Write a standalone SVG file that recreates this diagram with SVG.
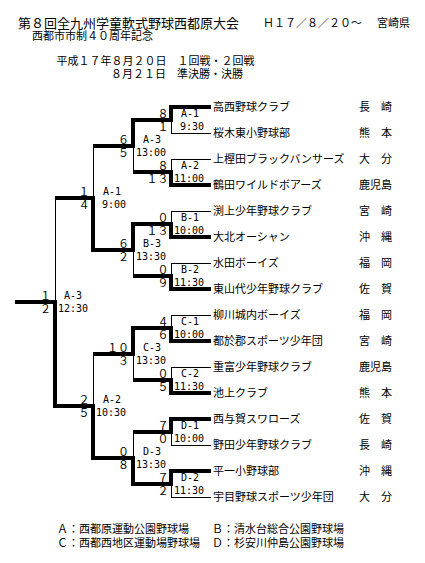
<svg xmlns="http://www.w3.org/2000/svg" width="425" height="563" viewBox="0 0 425 563">
<style>
.j{font-family:"Noto Sans CJK JP","Noto Sans CJK SC",sans-serif;font-size:11px;fill:#000}
.ttl{font-size:13px}
.s{text-anchor:end}
.m{font-family:"DejaVu Sans Mono","Liberation Mono",monospace;font-size:10px;fill:#000}
.e{text-anchor:end}
.k{stroke:#000;stroke-width:4;fill:none;stroke-linejoin:miter;shape-rendering:crispEdges}
.n{stroke:#000;stroke-width:1;fill:none;shape-rendering:crispEdges}
</style>
<rect width="425" height="563" fill="#fff"/>
<g id="header">
<text class="j ttl" x="18" y="28">第８回全九州学童軟式野球西都原大会</text>
<text class="j" x="263" y="27">Ｈ１７／８／２０～</text>
<text class="j" x="377" y="27">宮崎県</text>
<text class="j" x="32" y="40">西都市市制４０周年記念</text>
<text class="j" x="56.5" y="65">平成１７年８月２０日　１回戦・２回戦</text>
<text class="j" x="111" y="78">８月２１日　準決勝・決勝</text>
</g>
<g id="connectors">
<path class="k" d="M211,107H171V120H133V146H93"/>
<path class="k" d="M211,185H171V172H133"/>
<path class="k" d="M211,237H171V224H133V250H93V198H55"/>
<path class="k" d="M211,289H171V276H133"/>
<path class="k" d="M211,341H171V328H133V354H93"/>
<path class="k" d="M211,393H171V380H133"/>
<path class="k" d="M211,419H171V432H133"/>
<path class="k" d="M211,471H171V484H133V458H93V406H55V302H15"/>
<path class="n" d="M211,133H171V120"/>
<path class="n" d="M211,159H171V172"/>
<path class="n" d="M211,211H171V224"/>
<path class="n" d="M211,263H171V276"/>
<path class="n" d="M211,315H171V328"/>
<path class="n" d="M211,367H171V380"/>
<path class="n" d="M211,445H171V432"/>
<path class="n" d="M211,497H171V484"/>
<path class="n" d="M133,172V146M133,276V250M133,380V354M133,432V458"/>
<path class="n" d="M93,146V198M93,354V406"/>
<path class="n" d="M55,198V302"/>
</g>
<g id="teams">
<g id="team1"><text class="j" x="213" y="111">高西野球クラブ</text><text class="j" x="359" y="111">長　崎</text></g>
<g id="team2"><text class="j" x="213" y="137">桜木東小野球部</text><text class="j" x="359" y="137">熊　本</text></g>
<g id="team3"><text class="j" x="213" y="163">上樫田ブラックバンサーズ</text><text class="j" x="359" y="163">大　分</text></g>
<g id="team4"><text class="j" x="213" y="189">鶴田ワイルドボアーズ</text><text class="j" x="359" y="189">鹿児島</text></g>
<g id="team5"><text class="j" x="213" y="215">渕上少年野球クラブ</text><text class="j" x="359" y="215">宮　崎</text></g>
<g id="team6"><text class="j" x="213" y="241">大北オーシャン</text><text class="j" x="359" y="241">沖　縄</text></g>
<g id="team7"><text class="j" x="213" y="267">水田ボーイズ</text><text class="j" x="359" y="267">福　岡</text></g>
<g id="team8"><text class="j" x="213" y="293">東山代少年野球クラブ</text><text class="j" x="359" y="293">佐　賀</text></g>
<g id="team9"><text class="j" x="213" y="319">柳川城内ボーイズ</text><text class="j" x="359" y="319">福　岡</text></g>
<g id="team10"><text class="j" x="213" y="345">都於郡スポーツ少年団</text><text class="j" x="359" y="345">宮　崎</text></g>
<g id="team11"><text class="j" x="213" y="371">重富少年野球クラブ</text><text class="j" x="359" y="371">鹿児島</text></g>
<g id="team12"><text class="j" x="213" y="397">池上クラブ</text><text class="j" x="359" y="397">熊　本</text></g>
<g id="team13"><text class="j" x="213" y="423">西与賀スワローズ</text><text class="j" x="359" y="423">佐　賀</text></g>
<g id="team14"><text class="j" x="213" y="449">野田少年野球クラブ</text><text class="j" x="359" y="449">長　崎</text></g>
<g id="team15"><text class="j" x="213" y="475">平一小野球部</text><text class="j" x="359" y="475">沖　縄</text></g>
<g id="team16"><text class="j" x="213" y="501">宇目野球スポーツ少年団</text><text class="j" x="359" y="501">大　分</text></g>
</g>
<g id="matches">
<g id="mA1"><text class="j s" x="168.5" y="118">８</text><text class="j s" x="168.5" y="130.5">１</text><text class="m" x="181" y="117">A-1</text><text class="m e" x="204" y="130">9:30</text></g>
<g id="mA2"><text class="j s" x="168.5" y="170">８</text><text class="j s" x="168.5" y="182.5">１３</text><text class="m" x="181" y="169">A-2</text><text class="m e" x="204" y="182">11:00</text></g>
<g id="mB1"><text class="j s" x="168.5" y="222">０</text><text class="j s" x="168.5" y="234.5">１３</text><text class="m" x="181" y="221">B-1</text><text class="m e" x="204" y="234">10:00</text></g>
<g id="mB2"><text class="j s" x="168.5" y="274">０</text><text class="j s" x="168.5" y="286.5">９</text><text class="m" x="181" y="273">B-2</text><text class="m e" x="204" y="286">11:30</text></g>
<g id="mC1"><text class="j s" x="168.5" y="326">４</text><text class="j s" x="168.5" y="338.5">６</text><text class="m" x="181" y="325">C-1</text><text class="m e" x="204" y="338">10:00</text></g>
<g id="mC2"><text class="j s" x="168.5" y="378">０</text><text class="j s" x="168.5" y="390.5">５</text><text class="m" x="181" y="377">C-2</text><text class="m e" x="204" y="390">11:30</text></g>
<g id="mD1"><text class="j s" x="168.5" y="430">７</text><text class="j s" x="168.5" y="442.5">０</text><text class="m" x="181" y="429">D-1</text><text class="m e" x="204" y="442">10:00</text></g>
<g id="mD2"><text class="j s" x="168.5" y="482">７</text><text class="j s" x="168.5" y="494.5">２</text><text class="m" x="181" y="481">D-2</text><text class="m e" x="204" y="494">11:30</text></g>
<g id="mA3"><text class="j s" x="129" y="144">６</text><text class="j s" x="129" y="156.5">５</text><text class="m" x="143" y="143">A-3</text><text class="m e" x="166" y="156">13:00</text></g>
<g id="mB3"><text class="j s" x="129" y="248">６</text><text class="j s" x="129" y="260.5">２</text><text class="m" x="143" y="247">B-3</text><text class="m e" x="166" y="260">13:30</text></g>
<g id="mC3"><text class="j s" x="129" y="352">１０</text><text class="j s" x="129" y="364.5">３</text><text class="m" x="143" y="351">C-3</text><text class="m e" x="166" y="364">13:30</text></g>
<g id="mD3"><text class="j s" x="129" y="456">０</text><text class="j s" x="129" y="468.5">８</text><text class="m" x="143" y="455">D-3</text><text class="m e" x="166" y="468">13:30</text></g>
<g id="mSA1"><text class="j s" x="89.5" y="196">１</text><text class="j s" x="89.5" y="208.5">４</text><text class="m" x="103" y="195">A-1</text><text class="m e" x="126" y="208">9:00</text></g>
<g id="mSA2"><text class="j s" x="89.5" y="404">２</text><text class="j s" x="89.5" y="416.5">５</text><text class="m" x="103" y="403">A-2</text><text class="m e" x="126" y="416">10:30</text></g>
<g id="mF"><text class="j s" x="51" y="300">１</text><text class="j s" x="51" y="312.5">２</text><text class="m" x="64" y="299">A-3</text><text class="m e" x="88" y="312">12:30</text></g>
</g>
<g id="legend">
<text class="j" x="57" y="533">Ａ：西都原運動公園野球場</text>
<text class="j" x="212" y="533">Ｂ：清水台総合公園野球場</text>
<text class="j" x="57" y="547">Ｃ：西都西地区運動場野球場</text>
<text class="j" x="212" y="547">Ｄ：杉安川仲島公園野球場</text>
</g>
</svg>
